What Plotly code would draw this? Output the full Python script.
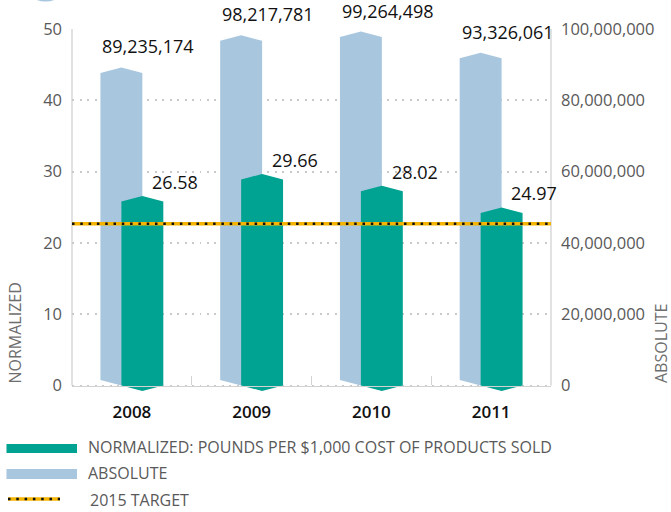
import plotly.graph_objects as go

# ---- data -------------------------------------------------------------
years = ["2008", "2009", "2010", "2011"]
absolute = [89235174, 98217781, 99264498, 93326061]      # pounds
normalized = [26.58, 29.66, 28.02, 24.97]                 # lb per $1,000 COGS
target_2015 = 22.7

abs_ticks = [0, 20000000, 40000000, 60000000, 80000000, 100000000]
norm_ticks = [0, 10, 20, 30, 40, 50]

# ---- styling ----------------------------------------------------------
BLUE = "#a8c6de"
TEAL = "#00a291"
GOLD = "#f5b400"
GRID = "#c9c9c9"
AXIS = "#d2d2d2"
GRAY_TXT = "#595959"
FONT = "Open Sans"

W, H = 671, 512
ML, MR, MT, MB = 72, 120, 29, 121
PW, PH = W - ML - MR, H - MT - MB

norm_max = 50
abs_max = 100000000
cap_px = 5.5                                   # height of the pointed bar ends
cap_n = cap_px * norm_max / (PH - cap_px)      # cap in normalized units
cap_a = cap_n * abs_max / norm_max             # cap in absolute units
norm_range = [-cap_n, norm_max]
abs_range = [-cap_a, abs_max]

half_w = 0.175      # half bar width (category units)
shift = 0.0875      # offset of each bar from the category centre


def px_x(px):
    return (px - ML) / PW


def px_y(py):
    return (H - MB - py) / PH


def arrow_bar(center, value, cap, pointed_base):
    """Polygon for a bar with a pointed top; base either notched-in or pointed down."""
    l, r = center - half_w, center + half_w
    xs = [l, l, center, r, r, center, l]
    if pointed_base:
        ys = [0, value - cap, value, value - cap, 0, -cap, 0]
    else:
        ys = [cap, value - cap, value, value - cap, cap, 0, cap]
    return xs, ys


fig = go.Figure()

# absolute bars (base axis, right side)
for i, v in enumerate(absolute):
    xs, ys = arrow_bar(i - shift, v, cap_a, pointed_base=False)
    fig.add_trace(go.Scatter(x=xs, y=ys, mode="lines", fill="toself",
                             fillcolor=BLUE, line=dict(width=0, color=BLUE),
                             hoverinfo="skip", showlegend=False, yaxis="y"))

# normalized bars (overlay axis, left side)
for i, v in enumerate(normalized):
    xs, ys = arrow_bar(i + shift, v, cap_n, pointed_base=True)
    fig.add_trace(go.Scatter(x=xs, y=ys, mode="lines", fill="toself",
                             fillcolor=TEAL, line=dict(width=0, color=TEAL),
                             hoverinfo="skip", showlegend=False, yaxis="y2"))

# 2015 target: gold band with black dots
fig.add_trace(go.Scatter(x=[-0.5, len(years) - 0.5], y=[target_2015] * 2,
                         mode="lines", line=dict(color=GOLD, width=3.5),
                         hoverinfo="skip", showlegend=False, yaxis="y2"))
fig.add_trace(go.Scatter(x=[-0.5, len(years) - 0.5], y=[target_2015] * 2,
                         mode="lines", line=dict(color="#111111", width=2.5, dash="2.5px,5.8px"),
                         hoverinfo="skip", showlegend=False, yaxis="y2"))

annotations = []
# value labels
for i, v in enumerate(absolute):
    annotations.append(dict(x=i - shift - half_w, y=v, xref="x", yref="y",
                            text=f"{v:,}", showarrow=False, xanchor="left",
                            yanchor="middle", yshift=21,
                            font=dict(family=FONT, size=18, color="#111111")))
for i, v in enumerate(normalized):
    annotations.append(dict(x=i + shift + 0.065, y=v, xref="x", yref="y2",
                            text=f"{v:.2f}", showarrow=False, xanchor="left",
                            yanchor="middle", yshift=14,
                            font=dict(family=FONT, size=18, color="#111111")))

# axis titles
annotations.append(dict(x=px_x(14.5), y=0, xref="paper", yref="y2", text="NORMALIZED",
                        textangle=-90, showarrow=False, xanchor="center", yanchor="bottom",
                        font=dict(family=FONT, size=16, color="#6e6e6e")))
annotations.append(dict(x=px_x(661), y=0, xref="paper", yref="y2", text="ABSOLUTE",
                        textangle=-90, showarrow=False, xanchor="center", yanchor="bottom",
                        font=dict(family=FONT, size=16, color="#6e6e6e")))

# legend text
legend_items = [("NORMALIZED: POUNDS PER $1,000 COST OF PRODUCTS SOLD", 447, 86),
                ("ABSOLUTE", 473, 86),
                ("2015 TARGET", 500, 88)]
for txt, ypx, xpx in legend_items:
    annotations.append(dict(x=px_x(xpx), y=px_y(ypx), xref="paper", yref="paper",
                            text=txt, showarrow=False, xanchor="left", yanchor="middle",
                            font=dict(family=FONT, size=16, color=GRAY_TXT)))

shapes = [
    # vertical axis lines
    dict(type="line", xref="paper", yref="y2", x0=0, x1=0, y0=0, y1=norm_max,
         line=dict(color=AXIS, width=1.3), layer="below"),
    dict(type="line", xref="paper", yref="y2", x0=1, x1=1, y0=0, y1=norm_max,
         line=dict(color=AXIS, width=1.3), layer="below"),
    # legend swatches
    dict(type="rect", xref="paper", yref="paper", x0=px_x(6.5), x1=px_x(77),
         y0=px_y(453), y1=px_y(444), fillcolor=TEAL, line=dict(width=0)),
    dict(type="rect", xref="paper", yref="paper", x0=px_x(6.5), x1=px_x(77),
         y0=px_y(479), y1=px_y(469), fillcolor=BLUE, line=dict(width=0)),
    dict(type="line", xref="paper", yref="paper", x0=px_x(8), x1=px_x(60),
         y0=px_y(499), y1=px_y(499), line=dict(color=GOLD, width=3.5)),
    dict(type="line", xref="paper", yref="paper", x0=px_x(8), x1=px_x(60),
         y0=px_y(499), y1=px_y(499), line=dict(color="#111111", width=2.5, dash="2.5px,5.8px")),
    # page ornament peeking in at the top
    dict(type="circle", xref="paper", yref="paper", x0=px_x(19), x1=px_x(72),
         y0=px_y(1.5), y1=px_y(-52), fillcolor=BLUE, line=dict(width=0)),
]

fig.update_layout(
    width=W, height=H,
    margin=dict(l=ML, r=MR, t=MT, b=MB),
    paper_bgcolor="white", plot_bgcolor="white",
    showlegend=False,
    xaxis=dict(range=[-0.5, len(years) - 0.5], tickvals=list(range(len(years))),
               ticktext=years, ticks="", showgrid=False, zeroline=False,
               showline=True, linecolor=AXIS, linewidth=1.3,
               anchor="free", position=cap_n / (norm_max + cap_n),
               ticklabelstandoff=11,
               minor=dict(tickvals=[i + 0.5 for i in range(len(years) - 1)],
                          ticks="inside", ticklen=9, tickcolor=AXIS, tickwidth=1.3),
               tickfont=dict(family=FONT, size=17, color="#111111", weight=600),
               fixedrange=True),
    yaxis=dict(range=abs_range, side="right", tickvals=abs_ticks, tickformat=",",
               showgrid=True, gridcolor=GRID, gridwidth=2, griddash="2px,5.5px",
               zeroline=False, showline=False, ticks="", ticklabelstandoff=9,
               tickfont=dict(family=FONT, size=16.5, color=GRAY_TXT), fixedrange=True),
    yaxis2=dict(range=norm_range, side="left", overlaying="y", tickvals=norm_ticks,
                showgrid=False, zeroline=False, showline=False, ticks="",
                ticklabelstandoff=9,
                tickfont=dict(family=FONT, size=16.5, color=GRAY_TXT), fixedrange=True),
    annotations=annotations,
    shapes=shapes,
)

fig.write_html("out.html")
